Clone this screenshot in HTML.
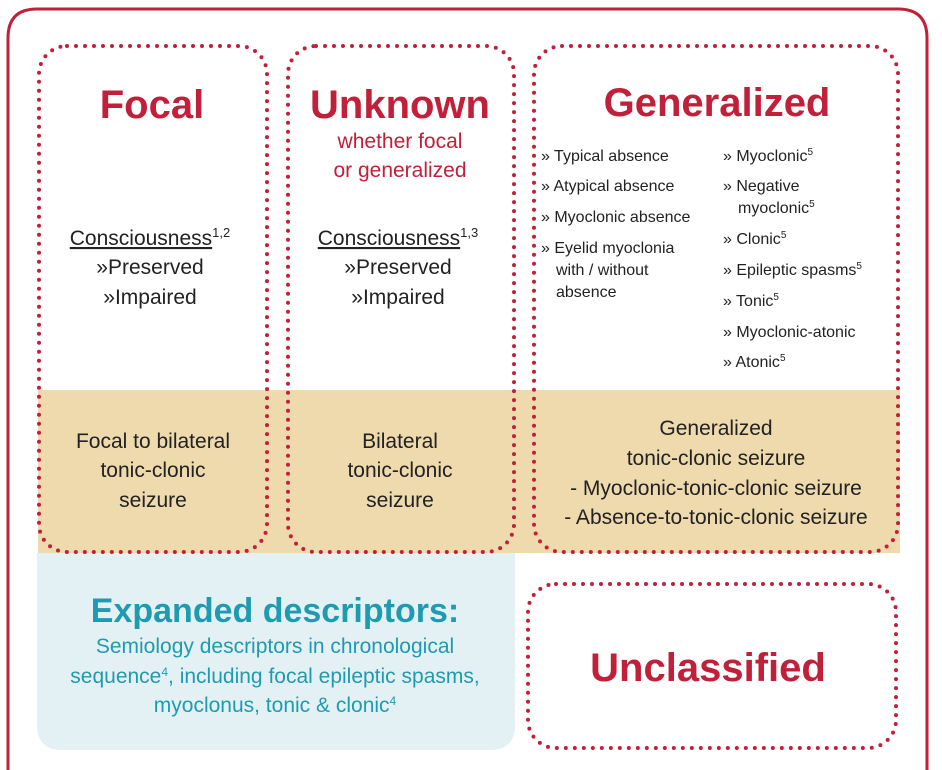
<!DOCTYPE html>
<html><head><style>
html,body{margin:0;padding:0;background:#fff;}
svg{display:block;}
text{font-family:"Liberation Sans",sans-serif;}
</style></head><body>
<svg width="942" height="770" viewBox="0 0 942 770" xmlns="http://www.w3.org/2000/svg">
<rect x="0" y="0" width="942" height="770" fill="#fff"/>
<path d="M8 780 V38 Q8 9 37 9 H898 Q927 9 927 38 V780" fill="none" stroke="#c0203a" stroke-width="3"/>
<rect x="38" y="390" width="862" height="163" fill="#efdaae"/>
<path d="M37 553 H515 V725 Q515 750 490 750 H62 Q37 750 37 725 Z" fill="#e4f1f4"/>
<g fill="none" stroke="#c0203a" stroke-width="4" stroke-linecap="round" stroke-dasharray="0 9">
<rect x="39" y="46" width="228" height="506" rx="28"/>
<rect x="288" y="46" width="226" height="506" rx="28"/>
<rect x="534" y="46" width="364" height="506" rx="28"/>
<rect x="528" y="584" width="368" height="164" rx="28"/>
</g>
<g fill="#c0203a" font-weight="bold" text-anchor="middle" font-size="40">
<text x="152" y="118">Focal</text>
<text x="400" y="118">Unknown</text>
<text x="717" y="116">Generalized</text>
<text x="708" y="681">Unclassified</text>
</g>
<g fill="#c0203a" text-anchor="middle" font-size="21">
<text x="400" y="148">whether focal</text>
<text x="400" y="177">or generalized</text>
</g>
<g fill="#222" font-size="21" text-anchor="middle">
<text x="150" y="245"><tspan text-decoration="underline">Consciousness</tspan><tspan font-size="13" dy="-8">1,2</tspan></text>
<text x="150" y="274">»Preserved</text>
<text x="150" y="304">»Impaired</text>
<text x="398" y="245"><tspan text-decoration="underline">Consciousness</tspan><tspan font-size="13" dy="-8">1,3</tspan></text>
<text x="398" y="274">»Preserved</text>
<text x="398" y="304">»Impaired</text>
<text x="153" y="448">Focal to bilateral</text>
<text x="153" y="477">tonic-clonic</text>
<text x="153" y="507">seizure</text>
<text x="400" y="448">Bilateral</text>
<text x="400" y="477">tonic-clonic</text>
<text x="400" y="507">seizure</text>
<text x="716" y="435">Generalized</text>
<text x="716" y="465">tonic-clonic seizure</text>
<text x="716" y="495">- Myoclonic-tonic-clonic seizure</text>
<text x="716" y="524">- Absence-to-tonic-clonic seizure</text>
</g>
<g fill="#222" font-size="16">
<text x="541" y="161">» Typical absence</text>
<text x="541" y="191">» Atypical absence</text>
<text x="541" y="222">» Myoclonic absence</text>
<text x="541" y="253">» Eyelid myoclonia</text>
<text x="556" y="275">with / without</text>
<text x="556" y="297">absence</text>
<text x="723" y="161">» Myoclonic<tspan font-size="10" dy="-6">5</tspan></text>
<text x="723" y="191">» Negative</text>
<text x="738" y="213">myoclonic<tspan font-size="10" dy="-6">5</tspan></text>
<text x="723" y="244">» Clonic<tspan font-size="10" dy="-6">5</tspan></text>
<text x="723" y="275">» Epileptic spasms<tspan font-size="10" dy="-6">5</tspan></text>
<text x="723" y="306">» Tonic<tspan font-size="10" dy="-6">5</tspan></text>
<text x="723" y="337">» Myoclonic-atonic</text>
<text x="723" y="367">» Atonic<tspan font-size="10" dy="-6">5</tspan></text>
</g>
<g fill="#1e9bb0" text-anchor="middle">
<text x="275" y="622" font-size="34" font-weight="bold">Expanded descriptors:</text>
<text x="275" y="653" font-size="21">Semiology descriptors in chronological</text>
<text x="275" y="683" font-size="21">sequence<tspan font-size="12" dy="-7">4</tspan><tspan dy="7">, including focal epileptic spasms,</tspan></text>
<text x="275" y="712" font-size="21">myoclonus, tonic &amp; clonic<tspan font-size="12" dy="-7">4</tspan></text>
</g>
</svg>
</body></html>
